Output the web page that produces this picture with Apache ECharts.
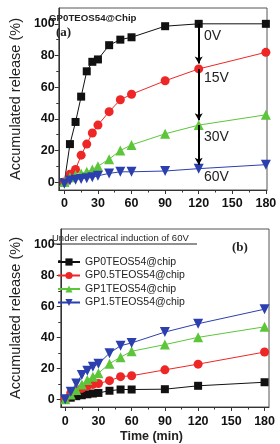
<!DOCTYPE html>
<html>
<head>
<meta charset="utf-8">
<script src="https://cdn.jsdelivr.net/npm/echarts@6/dist/echarts.min.js"></script>
<style>
  html, body { margin: 0; padding: 0; background: #fff; }
  #chart { width: 280px; height: 444px; }
</style>
</head>
<body>
<div id="chart"></div>
<script>
// sampling times (min)
const times = [0, 5, 10, 15, 20, 25, 30, 40, 50, 60, 90, 120, 180];

// (a) GP0TEOS54@Chip at different voltages
const v0 = [0, 24, 38, 54, 70, 76, 77.5, 86.5, 90, 91.5, 98.5, 100, 100];
const v15 = [0, 5, 8, 17, 24, 31, 36, 44.5, 52, 55.5, 64, 71.5, 82];
const v30 = [0, 3, 4.5, 5.5, 6.5, 8, 10, 14.5, 20, 23.5, 30.5, 36, 42.5];
const v60 = [-1, 1, 1.5, 2, 2.5, 3, 4, 5.5, 6.5, 6.5, 7, 8.5, 11];
const voltLabels = ['0V', '15V', '30V', '60V'];

// (b) different GP loadings under 60V
const g0 = [0, 1, 2, 2.6, 3.2, 3.7, 4.1, 5.5, 6.3, 6.3, 6.5, 8.7, 11];
const g05 = [0, 4, 5.5, 7, 8.5, 9.6, 10.2, 12, 14.6, 15.2, 19, 22.7, 30.5];
const g1 = [0, 3, 6, 9.5, 12.5, 14.6, 16.8, 23, 27.2, 31, 35.3, 40, 46.8];
const g15 = [0, 4.8, 10.2, 15.7, 18.5, 21, 22.9, 29.8, 34.6, 36.4, 43.4, 48.8, 58.2];
const legendNames = ['GP0TEOS54@chip', 'GP0.5TEOS54@chip', 'GP1TEOS54@chip', 'GP1.5TEOS54@chip'];

const xTicks = [0, 30, 60, 90, 120, 150, 180];
const xMinor = [15, 45, 75, 105, 135, 165];
const yTicks = [0, 20, 40, 60, 80, 100];
const yMinor = [10, 30, 50, 70, 90];

const FONT = 'Liberation Sans';
const BLACK = '#111';
const RED = '#ee2626';
const GREEN = '#5cc63a';
const BLUE = '#2b3fae';

const zip = (arr) => times.map((t, i) => [t, arr[i]]);

function mainX(gridIndex, min, max, margin) {
  return {
    type: 'value', gridIndex, min, max, position: 'bottom',
    axisLine: { show: true, onZero: false, lineStyle: { color: '#333', width: 1 } },
    axisTick: { show: true, inside: false, length: 4, customValues: xTicks, lineStyle: { color: '#333' } },
    axisLabel: { customValues: xTicks, margin, color: '#111', fontFamily: FONT, fontWeight: 'bold', fontSize: 12.5 },
    splitLine: { show: false }
  };
}
function minorX(gridIndex, min, max) {
  return {
    type: 'value', gridIndex, min, max, position: 'bottom',
    axisLine: { show: false, onZero: false },
    axisTick: { show: true, length: 2.5, customValues: xMinor, lineStyle: { color: '#333' } },
    axisLabel: { show: false },
    splitLine: { show: false }
  };
}
function mainY(gridIndex, min, max, margin, gap) {
  return {
    type: 'value', gridIndex, min, max, position: 'left',
    axisLine: { show: true, onZero: false, lineStyle: { color: '#333', width: 1 } },
    axisTick: { show: true, length: 4, customValues: yTicks, lineStyle: { color: '#333' } },
    axisLabel: { customValues: yTicks, margin, color: '#111', fontFamily: FONT, fontWeight: 'bold', fontSize: 12.5 },
    splitLine: { show: false },
    name: 'Accumulated release (%)',
    nameLocation: 'middle',
    nameGap: gap,
    nameTextStyle: { fontFamily: FONT, fontSize: 14.5, color: '#222' }
  };
}
function minorY(gridIndex, min, max) {
  return {
    type: 'value', gridIndex, min, max, position: 'left',
    axisLine: { show: false, onZero: false },
    axisTick: { show: true, length: 2.5, customValues: yMinor, lineStyle: { color: '#333' } },
    axisLabel: { show: false },
    splitLine: { show: false }
  };
}

function series(name, data, color, symbol, size, xi, yi, rotate) {
  return {
    name, type: 'line', data: zip(data), xAxisIndex: xi, yAxisIndex: yi,
    symbol, symbolSize: size, symbolRotate: rotate || 0,
    showAllSymbol: true,
    lineStyle: { color, width: 1 },
    itemStyle: { color },
    z: 3
  };
}

function txt(text, left, top, size, weight, family) {
  return {
    type: 'text', left, top,
    style: { text, fontFamily: family || FONT, fontSize: size, fontWeight: weight || 'normal', fill: '#222' }
  };
}

const chart = echarts.init(document.getElementById('chart'));

const s0 = series('a0', v0, BLACK, 'rect', 8, 0, 0);
s0.markLine = {
  silent: true,
  symbol: ['none', 'arrow'],
  symbolSize: [6, 7],
  lineStyle: { color: '#000', width: 2, type: 'solid' },
  label: { show: false },
  data: [
    [{ coord: [120, 100] }, { coord: [120, 75] }],
    [{ coord: [120, 71.5] }, { coord: [120, 39] }],
    [{ coord: [120, 36] }, { coord: [120, 11] }]
  ]
};

const voltY = [36, 78, 137, 177];

chart.setOption({
  animation: false,
  grid: [
    { left: 45, top: 8, width: 222, height: 182, show: true, borderColor: '#555', borderWidth: 1 },
    { left: 50, top: 229, width: 219, height: 178, show: true, borderColor: '#555', borderWidth: 1 }
  ],
  xAxis: [
    mainX(0, -5, 181, 7),
    mainX(1, -4, 184, 8),
    minorX(0, -5, 181),
    minorX(1, -4, 184)
  ],
  yAxis: [
    mainY(0, -5, 110, 4, 29),
    mainY(1, -5, 110, 6, 33),
    minorY(0, -5, 110),
    minorY(1, -5, 110)
  ],
  legend: {
    data: legendNames,
    orient: 'vertical',
    left: 52, top: 251.5,
    itemWidth: 22, itemHeight: 9, itemGap: 2.5,
    textStyle: { fontFamily: FONT, fontSize: 10.5, lineHeight: 11, color: '#222' }
  },
  series: [
    s0,
    series('a15', v15, RED, 'circle', 9, 0, 0),
    series('a30', v30, GREEN, 'triangle', 10, 0, 0),
    series('a60', v60, BLUE, 'triangle', 10, 0, 0, 180),
    series(legendNames[0], g0, BLACK, 'rect', 8, 1, 1),
    series(legendNames[1], g05, RED, 'circle', 9, 1, 1),
    series(legendNames[2], g1, GREEN, 'triangle', 10, 1, 1),
    series(legendNames[3], g15, BLUE, 'triangle', 10, 1, 1, 180)
  ],
  graphic: [
    txt('GP0TEOS54@Chip', 49, 13, 9.7, 'bold'),
    txt('(a)', 56, 26, 13, 'bold', 'Liberation Serif'),
    txt('(b)', 232, 241, 13, 'bold', 'Liberation Serif'),
    txt('Under electrical induction of 60V', 52, 233, 9.5),
    { type: 'line', shape: { x1: 52, y1: 244, x2: 197, y2: 244 }, style: { stroke: '#222', lineWidth: 1 } },
    txt('Time (min)', 120, 430, 12.5, 'bold')
  ].concat(voltLabels.map((t, i) => txt(t, 204, voltY[i] - 7, 14)))
});
</script>
</body>
</html>
